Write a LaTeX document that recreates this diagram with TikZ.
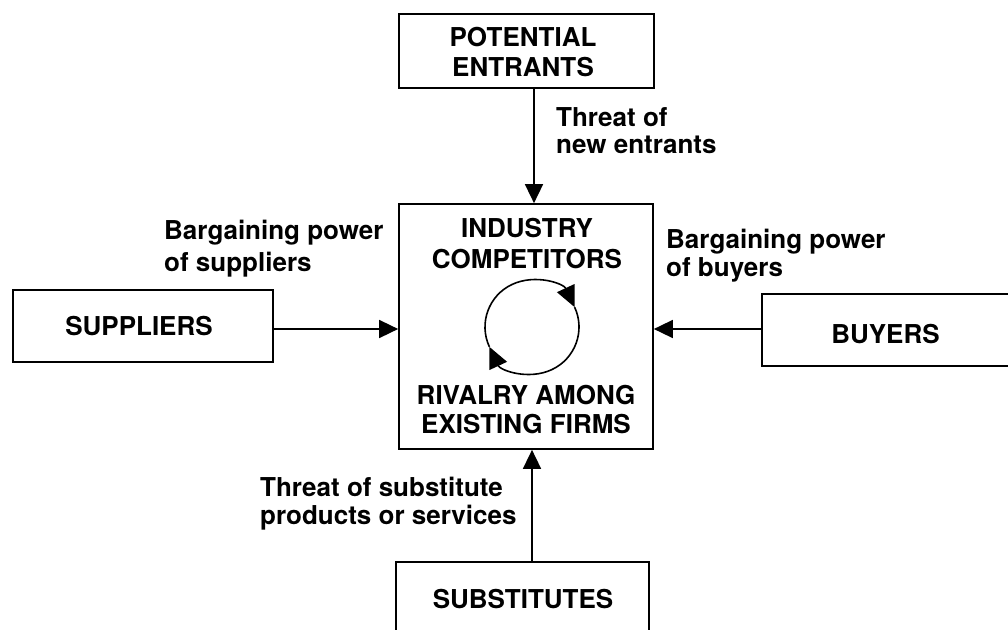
\documentclass[tikz,border=0pt]{standalone}
\usepackage{fontspec}
\setmainfont{TeX Gyre Heros}
\usetikzlibrary{arrows.meta}
\begin{document}
\begin{tikzpicture}[x=1pt,y=-1pt,
  forcebox/.style={draw, line width=1.7pt, inner sep=0pt},
  boxtext/.style={font=\bfseries\fontsize{26}{32}\selectfont, align=center, inner sep=0pt},
  labeltext/.style={font=\bfseries\fontsize{26}{27}\selectfont, align=left, inner sep=0pt, anchor=north west},
  push/.style={line width=1.6pt, -{Triangle[length=19pt,width=18pt]}},
  spin/.style={line width=1.6pt, -{Triangle[length=21pt,width=19pt]}}]
\useasboundingbox (0,0) rectangle (1008,629);
\clip (0,0) rectangle (1008,629);

% the five forces
\node[forcebox, minimum width=255pt, minimum height=74pt] (pe) at (526.5,51) {};
\node[forcebox, minimum width=254pt, minimum height=245pt] (ic) at (526,326.5) {};
\node[forcebox, minimum width=260pt, minimum height=72pt] (su) at (143,326) {};
\node[forcebox, minimum width=278pt, minimum height=72pt] (bu) at (901,330) {};
\node[forcebox, minimum width=253pt, minimum height=78pt] (sb) at (522.5,601) {};

% box captions
\node[boxtext, font=\bfseries\fontsize{26}{30}\selectfont] (pe-t) at (523,52) {POTENTIAL\\ENTRANTS};
\node[boxtext, font=\bfseries\fontsize{26}{31}\selectfont] (ic-t) at (527,244) {INDUSTRY\\COMPETITORS};
\node[boxtext, font=\bfseries\fontsize{26}{29}\selectfont] (ic-r) at (526,409.5) {RIVALRY AMONG\\EXISTING FIRMS};
\node[boxtext] (su-t) at (139,326) {SUPPLIERS};
\node[boxtext] (bu-t) at (885.5,334) {BUYERS};
\node[boxtext] (sb-t) at (523,599) {SUBSTITUTES};

% force labels
\node[labeltext, font=\bfseries\fontsize{26}{27}\selectfont] (l-new) at (556,107) {Threat of\\new entrants};
\node[labeltext, font=\bfseries\fontsize{26}{32}\selectfont] (l-sup) at (164,220) {Bargaining power\\of suppliers};
\node[labeltext, font=\bfseries\fontsize{26}{28}\selectfont] (l-buy) at (666,229) {Bargaining power\\of buyers};
\node[labeltext, font=\bfseries\fontsize{26}{28}\selectfont] (l-sub) at (260,477) {Threat of substitute\\products or services};

% arrows into the industry
\draw[push] ([xshift=7.5pt]pe.south) -- ([xshift=7.5pt]pe.south |- ic.north);
\draw[push] ([yshift=-3pt]su.east) -- ([yshift=-3pt]su.east -| ic.west);
\draw[push] ([yshift=1pt]bu.west) -- ([yshift=1pt]bu.west -| ic.east);
\draw[push] ([xshift=9.5pt]sb.north) -- ([xshift=9.5pt]sb.north |- ic.south);

% rivalry cycle
\coordinate (rc) at (532,327);
\draw[spin] (rc) ++(-205:47) arc[start angle=-205, end angle=-25, radius=47];
\draw[spin] (rc) ++(-25:47) arc[start angle=-25, end angle=155, radius=47];
\end{tikzpicture}
\end{document}
